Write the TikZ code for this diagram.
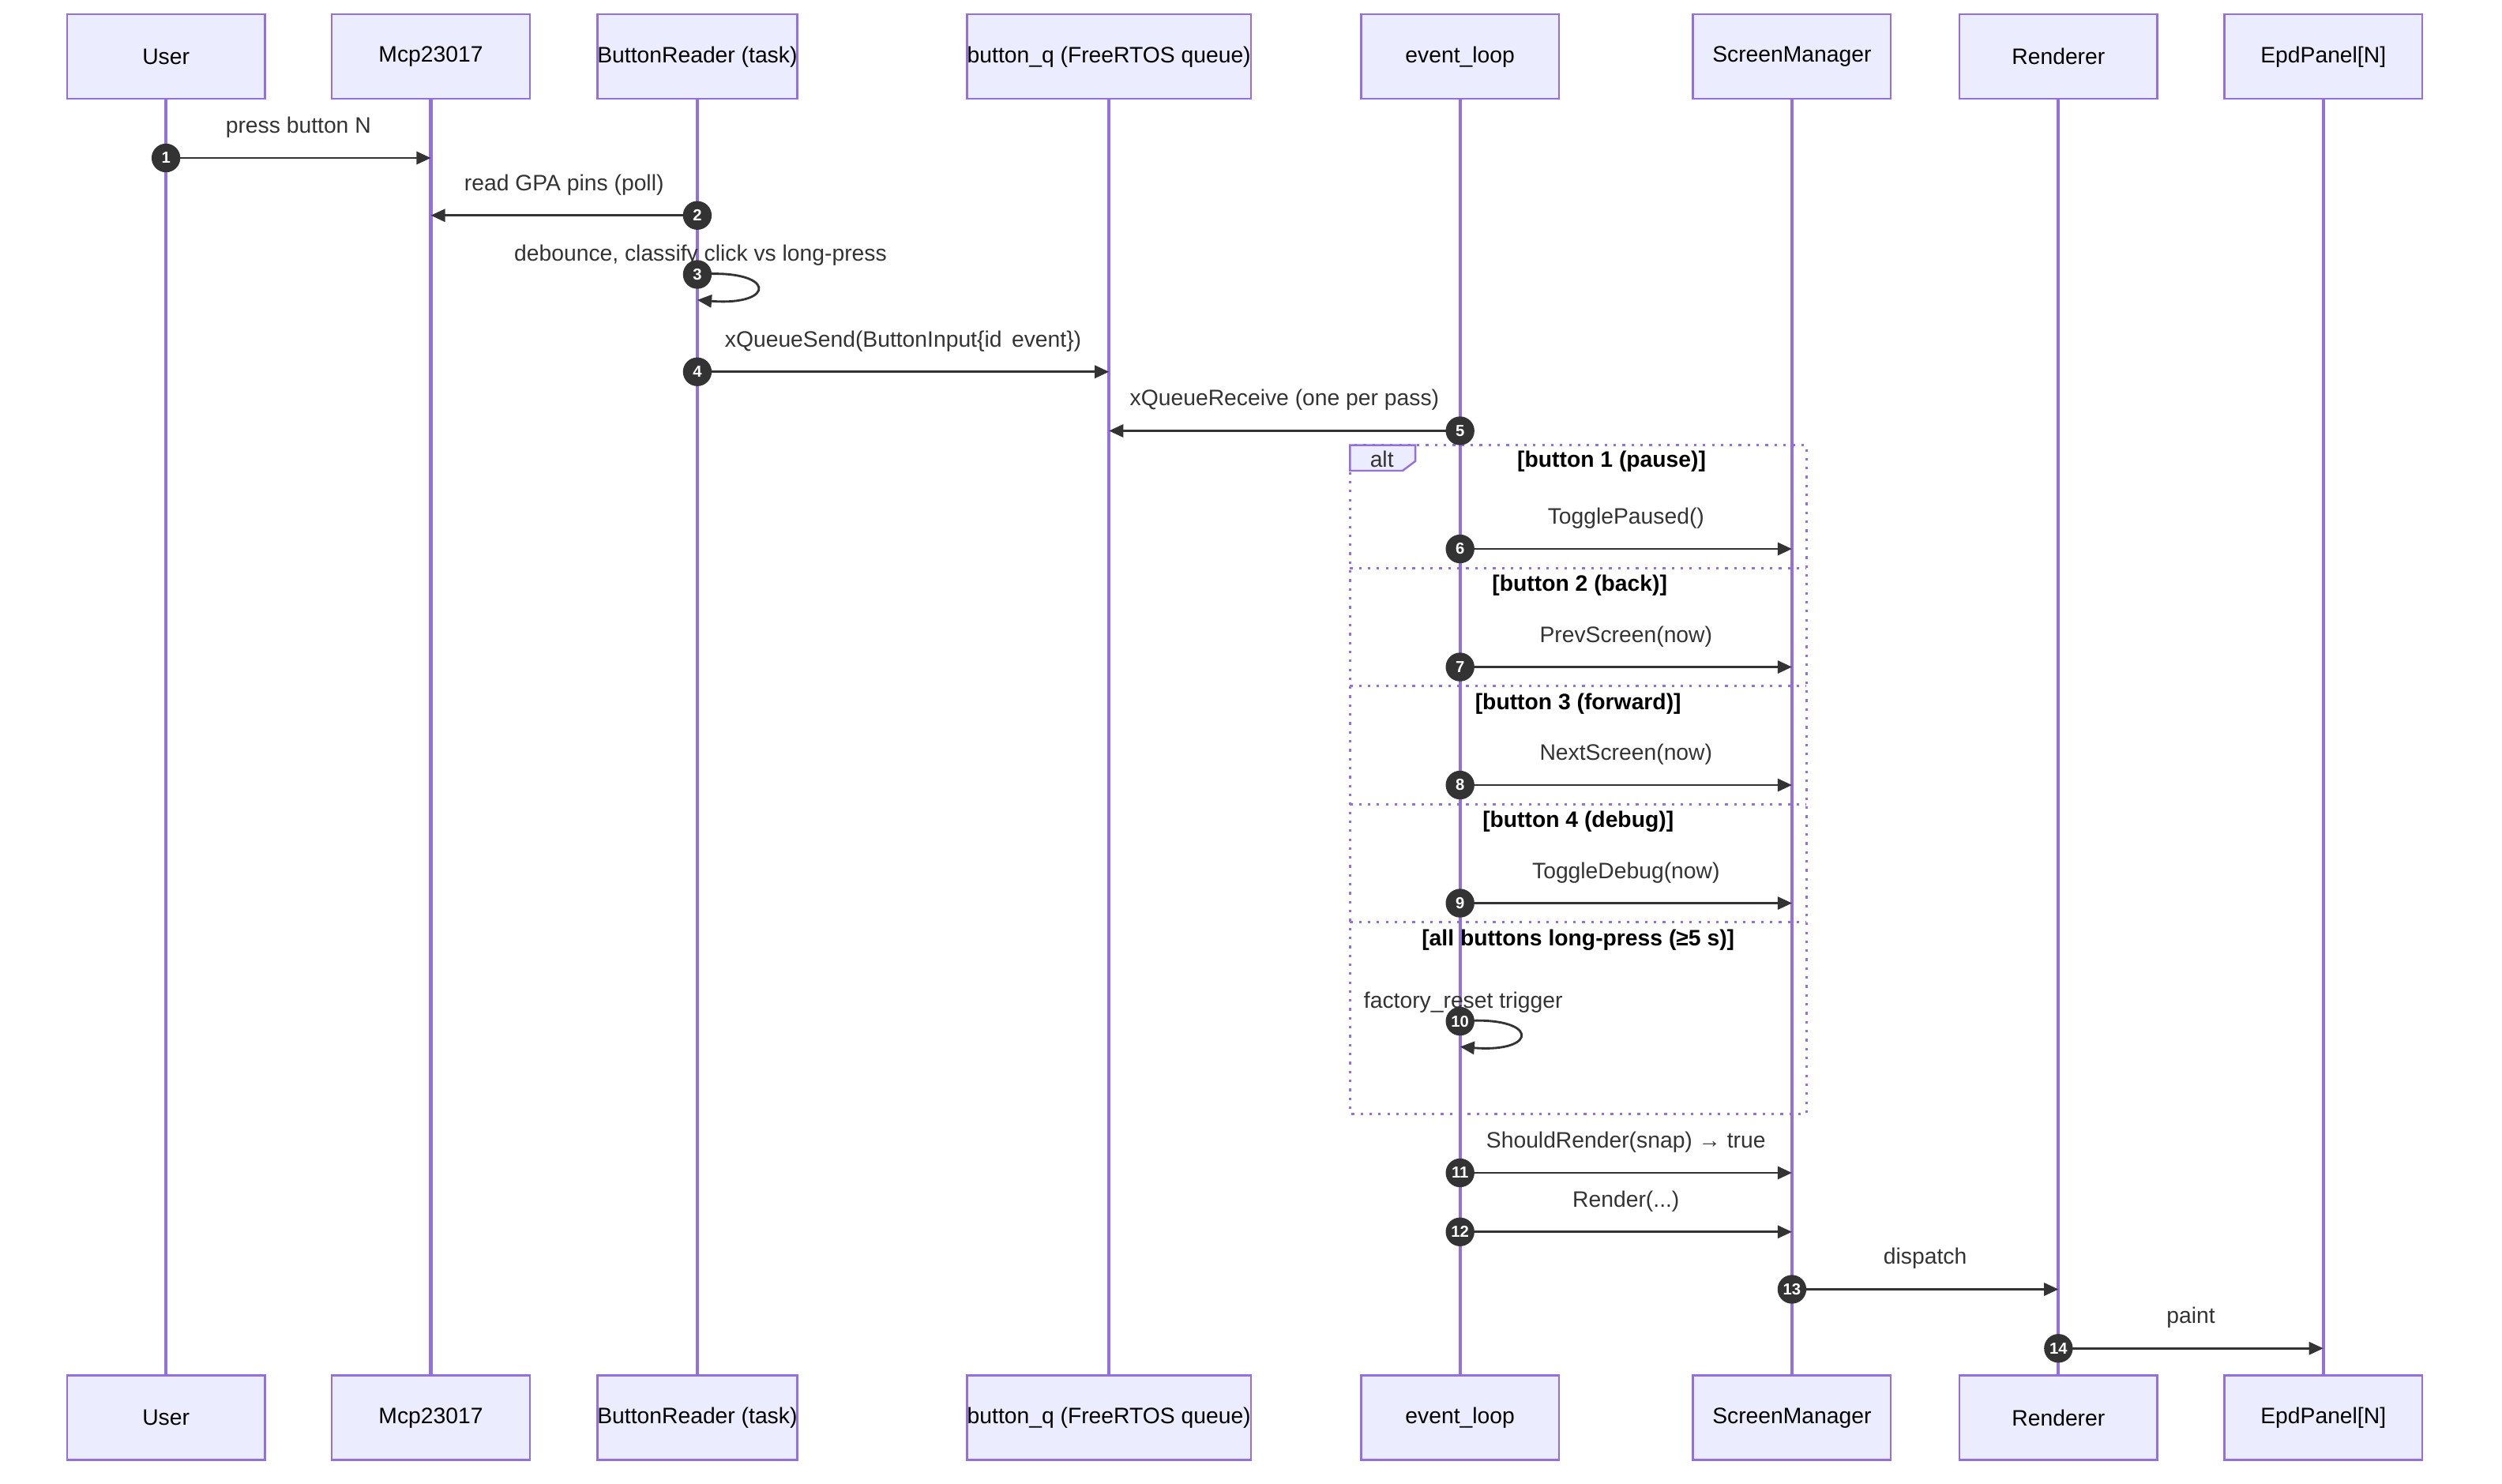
\documentclass[tikz,border=0pt]{standalone}
\usepackage{fontspec}
\setmainfont{Liberation Sans}
\usetikzlibrary{arrows.meta,positioning}
\definecolor{boxfill}{HTML}{ECECFF}
\definecolor{boxline}{HTML}{9370DB}
\definecolor{msg}{HTML}{333333}
\tikzset{
  actor/.style={draw=boxline,fill=boxfill,line width=0.6pt,minimum height=26.5pt,inner sep=0pt,font=\fontsize{7}{8}\selectfont},
  life/.style={draw=boxline,line width=1pt},
  call/.style={draw=msg,line width=0.7pt,-{Triangle[length=4.5pt,width=4pt]}},
  txt/.style={font=\fontsize{7}{8}\selectfont,text=msg,inner sep=0pt},
  num/.style={circle,fill=msg,text=white,inner sep=0pt,minimum size=9pt,font=\bfseries\fontsize{5}{5}\selectfont},
  sect/.style={font=\bfseries\fontsize{7}{8}\selectfont,text=black,inner sep=0pt}
}
\begin{document}
\begin{tikzpicture}[x=0.5pt,y=-0.5pt]
   \useasboundingbox (0,0) rectangle (1568,930);
   % participants: name/x/width/label
   \foreach \n/\x/\w/\t in {user/104/124/User, mcp/270/124/Mcp23017, reader/437/124/ButtonReader (task),
       queue/695/166/button\_q (FreeRTOS queue), loop/915/124/event\_loop, screen/1123/124/ScreenManager,
       render/1290/124/Renderer, panel/1456/124/EpdPanel[N]} {
     \draw[life] (\x,62) -- (\x,862);
     \node[actor,minimum width=\w*0.5pt] (\n-top) at (\x,35.5) {\t};
     \node[actor,minimum width=\w*0.5pt] (\n-bot) at (\x,888.5) {\t};
   }
   % alt frame
   \draw[boxline,dotted,line width=0.8pt] (846,279) rectangle (1132,698);
   \foreach \y in {356,430,504,578}
     \draw[boxline,dotted,line width=0.8pt] (846,\y) -- (1132,\y);
   \draw[boxline,fill=boxfill,line width=0.6pt] (846,279) -- (887,279) -- (887,289) -- (879,295) -- (846,295) -- cycle;
   \node[txt] at (866,288) {alt};
   \node[sect] at (1010,289) {[button 1 (pause)]};
   \node[sect] at (990,367) {[button 2 (back)]};
   \node[sect] at (989,441) {[button 3 (forward)]};
   \node[sect] at (989,515) {[button 4 (debug)]};
   \node[sect] at (989,589) {[all buttons long-press (≥5 s)]};
   % messages: number/from x/to x/y/label
   \foreach \i/\a/\b/\y/\t in {1/104/270/99/press button N, 2/437/270/135/read GPA pins (poll),
       4/437/695/233/xQueueSend(ButtonInput\{id\, event\}), 5/915/695/270/xQueueReceive (one per pass),
       6/915/1123/344/TogglePaused(), 7/915/1123/418/PrevScreen(now), 8/915/1123/492/NextScreen(now),
       9/915/1123/566/ToggleDebug(now), 11/915/1123/735/ShouldRender(snap) → true,
       12/915/1123/772/{Render(.{}.{}.)}, 13/1123/1290/808/dispatch, 14/1290/1456/845/paint} {
     \coordinate (m\i-a) at (\a,\y);
     \coordinate (m\i-b) at (\b,\y);
     \draw[call] (m\i-a) -- node[txt,above=6pt] {\t} (m\i-b);
     \node[num] at (m\i-a) {\i};
   }
   % self messages
   \foreach \i/\x/\y/\t in {3/437/172/{debounce, classify click vs long-press}, 10/915/640/factory\_reset trigger} {
     \coordinate (s\i-a) at (\x,\y);
     \coordinate (s\i-b) at (\x,\y+16);
     \draw[call] (s\i-a) .. controls (\x+50,\y-4) and (\x+50,\y+20) .. (s\i-b);
     \node[txt] at (\x+2,\y-12) {\t};
     \node[num] at (s\i-a) {\i};
   }
\end{tikzpicture}
\end{document}
